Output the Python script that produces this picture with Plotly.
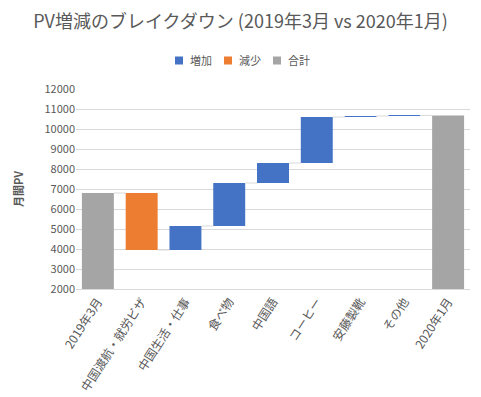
import plotly.graph_objects as go

categories = ["2019年3月", "中国渡航・就労ビザ", "中国生活・仕事", "食べ物", "中国語",
              "コーヒー", "安藤製靴", "その他", "2020年1月"]
start_value = 6800
deltas = [-2850, 1200, 2150, 1000, 2300, 50, 30]
y_ticks = list(range(2000, 12001, 1000))
y_tick_labels = [str(v) for v in y_ticks]
legend_names = ["増加", "減少", "合計"]

BLUE = "#4472C4"
ORANGE = "#ED7D31"
GRAY = "#A5A5A5"
TEXT = "#595959"
AXIS_MIN = 2000

# compute bars
levels = [start_value]
for d in deltas:
    levels.append(levels[-1] + d)
end_value = levels[-1]

inc_x, inc_base, inc_y = [], [], []
dec_x, dec_base, dec_y = [], [], []
for i, d in enumerate(deltas):
    cat = categories[i + 1]
    lo = min(levels[i], levels[i + 1])
    if d >= 0:
        inc_x.append(cat); inc_base.append(lo); inc_y.append(abs(d))
    else:
        dec_x.append(cat); dec_base.append(lo); dec_y.append(abs(d))
tot_x = [categories[0], categories[-1]]
tot_base = [AXIS_MIN, AXIS_MIN]
tot_y = [start_value - AXIS_MIN, end_value - AXIS_MIN]

W = 0.73
fig = go.Figure()
fig.add_trace(go.Bar(name=legend_names[0], x=inc_x, y=inc_y, base=inc_base, marker_color=BLUE,
                     marker_line_width=0, width=W))
fig.add_trace(go.Bar(name=legend_names[1], x=dec_x, y=dec_y, base=dec_base, marker_color=ORANGE,
                     marker_line_width=0, width=W))
fig.add_trace(go.Bar(name=legend_names[2], x=tot_x, y=tot_y, base=tot_base, marker_color=GRAY,
                     marker_line_width=0, width=W))

# connectors
all_levels = levels + [end_value]
for i in range(len(categories) - 1):
    lvl = all_levels[i]
    fig.add_shape(type="line", xref="x", yref="y",
                  x0=i + W / 2, x1=i + 1 - W / 2, y0=lvl, y1=lvl,
                  line=dict(color="#D9D9D9", width=1))

# custom compact legend (plot area: x 76..470 px, y 89..289 px)
L, R, T, B = 76, 11, 89, 108
PW, PH = 481 - L - R, 397 - T - B
def px(x): return (x - L) / PW
def py(y): return (397 - B - y) / PH
legend_sq_left = [175, 224, 273]
legend_cy = 60.5
for name, col, sx in zip(legend_names, [BLUE, ORANGE, GRAY], legend_sq_left):
    fig.add_shape(type="rect", xref="paper", yref="paper",
                  x0=px(sx), x1=px(sx + 8), y0=py(legend_cy + 4), y1=py(legend_cy - 4),
                  fillcolor=col, line=dict(width=0))
    fig.add_annotation(text=name, xref="paper", yref="paper", x=px(sx + 13), y=py(legend_cy),
                       xanchor="left", yanchor="middle", showarrow=False,
                       font=dict(size=11, color=TEXT))

fig.update_layout(
    width=481, height=397,
    margin=dict(l=L, r=R, t=T, b=B),
    paper_bgcolor="white", plot_bgcolor="white",
    font=dict(family="Noto Sans CJK JP", color=TEXT, size=11),
    title=dict(text="PV増減のブレイクダウン (2019年3月 vs 2020年1月)",
               x=0.5, xanchor="center", y=1 - 22 / 397, yanchor="middle",
               font=dict(size=18, color=TEXT)),
    barmode="overlay",
    showlegend=False,
    xaxis=dict(type="category", categoryorder="array", categoryarray=categories,
               tickangle=-57, showline=True, linecolor="#D9D9D9", ticks="",
               automargin=False,
               tickfont=dict(size=12, color=TEXT)),
    yaxis=dict(range=[AXIS_MIN, 12000], tickvals=y_ticks, ticktext=y_tick_labels,
               showgrid=True, automargin=False,
               gridcolor="#D9D9D9", zeroline=False, showline=False,
               tickfont=dict(size=11, color=TEXT),
               title=dict(text="<b>月間PV</b>", font=dict(size=11, color=TEXT), standoff=18)),
)

fig.write_html("out.html", post_script="document.body.style.margin='0';",
               config={"displayModeBar": False})
